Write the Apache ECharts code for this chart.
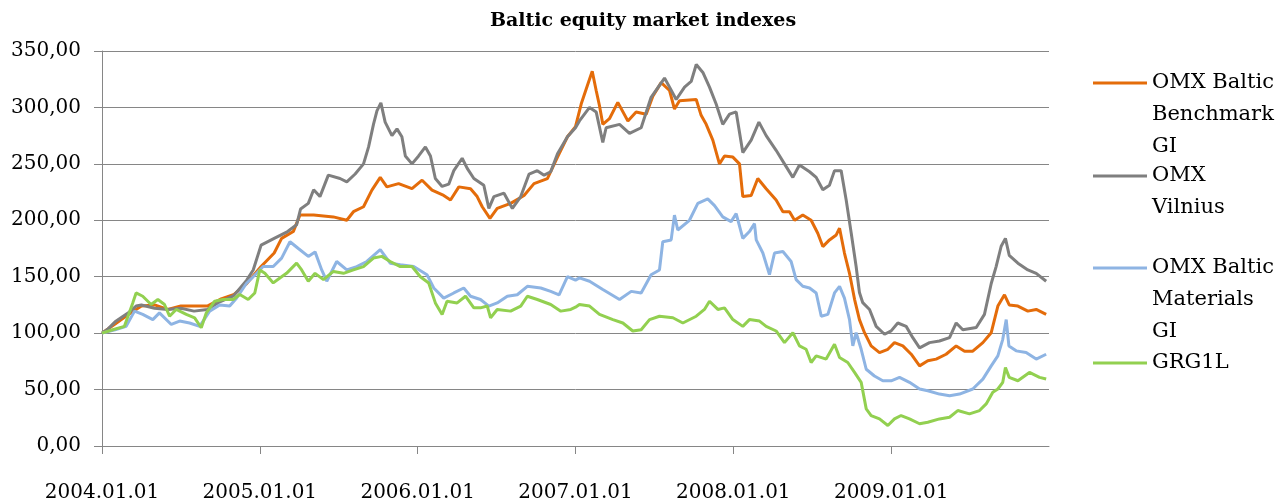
<!DOCTYPE html>
<html>
<head>
<meta charset="utf-8">
<script src="https://cdn.jsdelivr.net/npm/echarts@6/dist/echarts.min.js"></script>
<style>
html,body{margin:0;padding:0;background:#fff;}
#chart{width:1277px;height:503px;}
</style>
</head>
<body>
<div id="chart"></div>
<script>
// ---- data (x = decimal year, y = index value) ----
const seriesNames = ['OMX Baltic Benchmark GI', 'OMX Vilnius', 'OMX Baltic Materials GI', 'GRG1L'];
const legendLabels = ['OMX Baltic\nBenchmark\nGI', 'OMX\nVilnius', 'OMX Baltic\nMaterials\nGI', 'GRG1L'];
const xTickYears = [2004, 2005, 2006, 2007, 2008, 2009];
const yTicks = [0, 50, 100, 150, 200, 250, 300, 350];

const omxBalticBenchmark = [
[2004.000,100],[2004.040,104],[2004.083,108],[2004.167,116.5],[2004.250,124],[2004.333,125],[2004.417,121],[2004.500,124],[2004.583,124],[2004.667,124],[2004.750,130],[2004.833,134],[2004.917,144],[2005.008,159],[2005.091,171],[2005.138,184],[2005.212,190],[2005.254,204.6],[2005.341,204.6],[2005.466,203],[2005.551,200],[2005.593,207.6],[2005.657,212],[2005.710,226.7],[2005.763,238],[2005.805,229.6],[2005.879,232.5],[2005.964,228],[2006.028,235.5],[2006.091,226.7],[2006.165,222],[2006.208,218],[2006.261,229.6],[2006.335,228],[2006.377,221],[2006.409,212],[2006.458,201.7],[2006.504,210.5],[2006.589,215],[2006.674,222],[2006.737,232.5],[2006.822,237],[2006.886,256],[2006.949,274],[2007.000,283],
[2007.036,303],[2007.078,320.6],[2007.106,332],[2007.131,315],[2007.152,301.5],[2007.173,285],[2007.215,290],[2007.268,304.5],[2007.332,288],[2007.384,296],[2007.448,294],[2007.490,310],[2007.543,322],[2007.596,315],[2007.627,298.6],[2007.659,306],[2007.765,307],[2007.796,293],[2007.828,285],[2007.870,271],[2007.912,250],[2007.944,257],[2007.997,256],[2008.039,250],[2008.060,221],[2008.113,222],[2008.155,237],[2008.208,228],[2008.271,218],[2008.314,207.6],[2008.356,207.6],[2008.388,200],[2008.440,204.6],[2008.493,200],[2008.535,188.5],[2008.567,176.7],[2008.609,182.6],[2008.652,187],[2008.673,193],[2008.704,171],[2008.736,153],[2008.768,130],[2008.799,112],[2008.831,100.4],[2008.873,88.7],[2008.926,82.8],[2008.979,85.7],[2009.021,91.6],[2009.074,88.7],[2009.127,81.3],[2009.180,71],[2009.232,75.5],[2009.285,77],[2009.348,81.3],[2009.412,88.7],[2009.465,84],[2009.517,84],[2009.581,91.6],[2009.634,100.4],[2009.676,124],[2009.718,134],[2009.748,125],[2009.803,124],[2009.866,119.5],[2009.919,121],[2009.982,116.6]
];

const omxVilnius = [
[2004.000,100],[2004.040,104],[2004.083,110],[2004.167,118],[2004.216,124],[2004.250,125],[2004.333,122],[2004.417,121],[2004.500,122],[2004.583,119.5],[2004.667,121],[2004.750,128],[2004.833,133],[2004.917,147],[2004.958,156],[2005.008,178],[2005.091,184],[2005.176,190],[2005.233,196],[2005.258,210],[2005.307,215],[2005.341,227],[2005.381,221],[2005.434,240],[2005.508,237],[2005.551,234],[2005.604,241],[2005.657,250],[2005.689,265],[2005.720,285],[2005.742,297],[2005.767,304],[2005.794,287],[2005.837,275],[2005.869,281],[2005.900,274],[2005.922,257],[2005.964,250],[2006.006,257],[2006.049,265],[2006.081,257],[2006.112,237],[2006.155,230],[2006.197,232],[2006.229,244],[2006.282,255],[2006.314,246],[2006.356,237],[2006.419,231],[2006.451,210.5],[2006.483,221],[2006.547,224],[2006.600,210.5],[2006.653,221],[2006.706,241],[2006.758,244],[2006.801,240],[2006.843,243],[2006.886,259],[2006.949,274],[2007.000,282],
[2007.025,288],[2007.089,300],[2007.131,296],[2007.173,269],[2007.194,282],[2007.279,285],[2007.342,277],[2007.416,282],[2007.479,309],[2007.564,326],[2007.596,318],[2007.638,307],[2007.691,318],[2007.733,323],[2007.765,338],[2007.807,331],[2007.849,318],[2007.891,303],[2007.933,285],[2007.976,294],[2008.018,296],[2008.060,260],[2008.113,271],[2008.162,287],[2008.208,275],[2008.271,262],[2008.324,250],[2008.377,238],[2008.419,249],[2008.483,243],[2008.525,238],[2008.567,227],[2008.609,231],[2008.641,244],[2008.683,244],[2008.715,218],[2008.747,188.5],[2008.778,159],[2008.799,136],[2008.820,127],[2008.863,121],[2008.905,106],[2008.958,99],[2009.000,102],[2009.042,109],[2009.095,106],[2009.137,96],[2009.180,87],[2009.243,91.6],[2009.306,93],[2009.370,96],[2009.412,109],[2009.454,103],[2009.539,105],[2009.591,116.6],[2009.634,144],[2009.665,159],[2009.697,177],[2009.724,184],[2009.748,169],[2009.803,162],[2009.866,156],[2009.919,153],[2009.982,146]
];

const omxBalticMaterials = [
[2004.000,100],[2004.083,103],[2004.153,106],[2004.206,119.5],[2004.258,116.6],[2004.322,112],[2004.364,118],[2004.439,107.7],[2004.492,110.7],[2004.555,109],[2004.619,106],[2004.682,119.5],[2004.746,125],[2004.809,124],[2004.852,131],[2004.915,144],[2004.958,150],[2005.021,159],[2005.085,159],[2005.138,166.5],[2005.191,181],[2005.244,175],[2005.307,168],[2005.350,172],[2005.392,156],[2005.424,146],[2005.487,163.5],[2005.551,156],[2005.614,159],[2005.678,163.5],[2005.763,174],[2005.826,162],[2005.890,160.6],[2005.975,159],[2006.059,151.8],[2006.102,140],[2006.165,131],[2006.229,135.6],[2006.292,140],[2006.335,132.7],[2006.398,129.8],[2006.451,124],[2006.504,126.8],[2006.568,132.7],[2006.631,134],[2006.695,141.5],[2006.780,140],[2006.843,137],[2006.896,134],[2006.949,150],[2007.000,147],
[2007.025,149],[2007.089,146],[2007.173,138.6],[2007.279,129.8],[2007.353,137],[2007.416,135.6],[2007.479,151.8],[2007.532,156],[2007.553,181],[2007.606,182.6],[2007.627,204.6],[2007.648,191.4],[2007.722,200],[2007.775,215],[2007.838,219],[2007.881,213],[2007.933,203],[2007.986,198.8],[2008.018,206],[2008.060,184],[2008.102,190],[2008.134,197],[2008.145,182.6],[2008.187,171],[2008.229,151.8],[2008.261,171],[2008.314,172.3],[2008.366,163.5],[2008.398,147.4],[2008.440,141.5],[2008.483,140],[2008.525,135.6],[2008.557,115],[2008.599,116.6],[2008.641,135.6],[2008.673,141.5],[2008.704,131],[2008.736,112],[2008.757,88.7],[2008.778,100.4],[2008.810,85.7],[2008.842,68],[2008.894,62],[2008.947,57.8],[2009.000,57.8],[2009.053,60.8],[2009.116,56.4],[2009.180,50.5],[2009.232,49],[2009.306,46],[2009.370,44.6],[2009.433,46],[2009.517,50.5],[2009.581,59.3],[2009.634,71],[2009.676,79.9],[2009.707,94.5],[2009.729,112],[2009.746,88.7],[2009.792,84.3],[2009.855,82.8],[2009.919,77],[2009.982,81.3]
];

const grg1l = [
[2004.000,100],[2004.068,103],[2004.142,106],[2004.195,126.8],[2004.216,135.6],[2004.258,132.7],[2004.311,125.4],[2004.354,129.8],[2004.396,125.4],[2004.428,115],[2004.470,121],[2004.534,116.6],[2004.587,113.6],[2004.629,104.8],[2004.661,118],[2004.714,128.3],[2004.767,129.8],[2004.831,129.8],[2004.873,134.2],[2004.926,129.8],[2004.968,135.6],[2005.000,156],[2005.032,153],[2005.085,144.5],[2005.127,148.9],[2005.169,153],[2005.233,162],[2005.265,156],[2005.307,146],[2005.350,153],[2005.403,147.4],[2005.466,154.7],[2005.530,153],[2005.593,156],[2005.657,159],[2005.720,166.5],[2005.773,168],[2005.826,163.5],[2005.890,159],[2005.964,159],[2006.017,150],[2006.070,144.5],[2006.112,126.8],[2006.155,116.6],[2006.186,128.3],[2006.250,126.8],[2006.303,132.7],[2006.356,122.4],[2006.398,122.4],[2006.441,124],[2006.462,113.6],[2006.504,121],[2006.589,119.5],[2006.653,124],[2006.695,132.7],[2006.758,129.8],[2006.843,125.4],[2006.907,119.5],[2006.970,121],[2007.000,123],
[2007.025,125.4],[2007.089,124],[2007.152,116.6],[2007.237,112],[2007.300,109],[2007.363,101.9],[2007.416,103],[2007.469,112],[2007.532,115],[2007.617,113.6],[2007.680,109],[2007.765,115],[2007.817,121],[2007.849,128.3],[2007.902,121],[2007.944,122.4],[2007.997,112],[2008.060,106],[2008.102,112],[2008.166,110.7],[2008.208,106],[2008.271,101.9],[2008.324,91.6],[2008.377,100.4],[2008.419,88.7],[2008.461,85.7],[2008.493,74],[2008.525,79.9],[2008.588,77],[2008.641,90.1],[2008.673,78.4],[2008.725,74],[2008.768,65.2],[2008.810,56.4],[2008.842,32.9],[2008.873,27],[2008.926,24],[2008.979,18.2],[2009.021,24],[2009.063,27],[2009.116,24],[2009.180,19.7],[2009.232,21.1],[2009.306,24],[2009.370,25.5],[2009.422,31.4],[2009.496,28.5],[2009.560,31.4],[2009.602,37.3],[2009.644,47.6],[2009.676,50.5],[2009.707,56.4],[2009.724,69.6],[2009.748,60.8],[2009.803,57.8],[2009.876,65.2],[2009.940,60.8],[2009.982,59.3]
];

// ---- styling / layout ----
const colors = ['#E46C0A', '#7F7F7F', '#8EB4E3', '#92D050'];
const allData = [omxBalticBenchmark, omxVilnius, omxBalticMaterials, grg1l];
const legendFirstLineY = [83, 176, 268, 363];
const LH = 31.7;
const FONT = '"DejaVu Serif", serif';

const chart = echarts.init(document.getElementById('chart'), null, {renderer: 'canvas'});

const legends = seriesNames.map((name, i) => {
  const n = legendLabels[i].split('\n').length;
  const total = 2 * n - 1;
  return {
    data: [name],
    left: 1093,
    top: legendFirstLineY[i] - total * LH / 2,
    padding: 0,
    icon: 'rect',
    itemWidth: 54,
    itemHeight: 3,
    itemGap: 0,
    selectedMode: false,
    formatter: () => '\n'.repeat(n - 1) + legendLabels[i],
    textStyle: {fontFamily: FONT, fontSize: 21, color: '#000', lineHeight: LH}
  };
});

const option = {
  animation: false,
  backgroundColor: '#fff',
  title: {
    text: 'Baltic equity market indexes',
    left: 643,
    top: 12,
    padding: 0,
    textAlign: 'center',
    textStyle: {fontFamily: FONT, fontWeight: 'bold', fontSize: 19, color: '#000'}
  },
  legend: legends,
  grid: {left: 102, right: 228, top: 51, bottom: 56, containLabel: false},
  xAxis: {
    type: 'value',
    min: 2004,
    max: 2010,
    interval: 1,
    axisLine: {show: true, lineStyle: {color: '#868686', width: 1}},
    axisTick: {show: true, length: 8, customValues: xTickYears, lineStyle: {color: '#868686'}},
    axisLabel: {
      customValues: xTickYears,
      margin: 37,
      fontFamily: FONT, fontSize: 20, color: '#000',
      formatter: v => v + '.01.01'
    },
    splitLine: {show: false}
  },
  yAxis: {
    type: 'value',
    min: 0,
    max: 350,
    interval: 50,
    axisLine: {show: true, lineStyle: {color: '#868686', width: 1}},
    axisTick: {show: true, length: 8, lineStyle: {color: '#868686'}},
    axisLabel: {
      margin: 21,
      fontFamily: FONT, fontSize: 20, color: '#000',
      formatter: v => v.toFixed(2).replace('.', ',')
    },
    splitLine: {show: true, lineStyle: {color: '#868686', width: 1}}
  },
  series: seriesNames.map((name, i) => ({
    name: name,
    type: 'line',
    data: allData[i],
    symbol: 'none',
    showSymbol: false,
    lineStyle: {color: colors[i], width: 3},
    itemStyle: {color: colors[i]},
    emphasis: {disabled: true}
  }))
};

chart.setOption(option);
</script>
</body>
</html>
